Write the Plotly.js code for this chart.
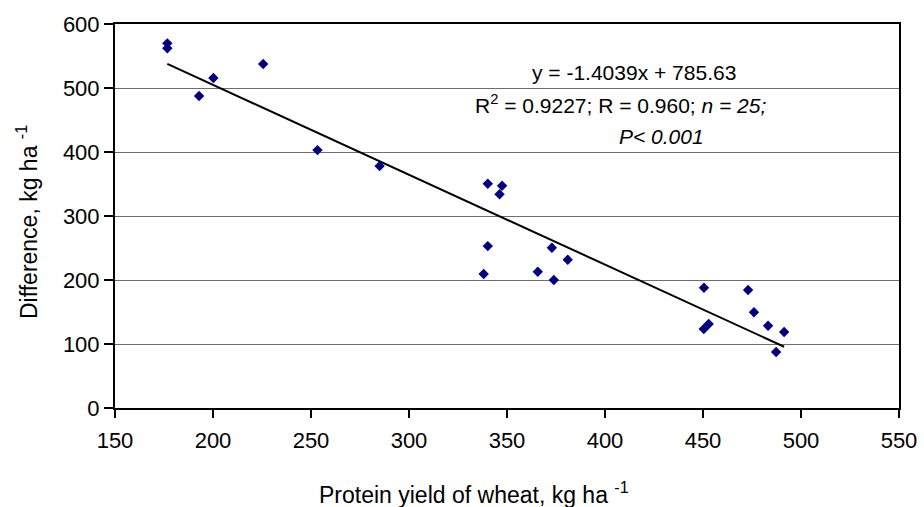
<!DOCTYPE html>
<html>
<head>
<meta charset="utf-8">
<script src="https://cdn.plot.ly/plotly-3.0.1.min.js"></script>
<style>html,body{margin:0;padding:0;background:#fff;}#chart{width:924px;height:507px;}</style>
</head>
<body>
<div id="chart"></div>
<script>
// Protein yield of wheat (kg ha-1)
const proteinYield = [176.7, 176.7, 192.9, 200.2, 225.6, 253.3, 285.0, 340.2, 347.5, 346.2, 340.2, 338.1, 372.9, 381.0, 365.7, 373.9, 450.5, 473.0, 476.0, 483.2, 491.4, 487.3, 450.4, 452.9];
// Difference (kg ha-1)
const difference = [569.8, 562.0, 487.5, 515.6, 537.5, 403.0, 378.0, 350.5, 347.3, 333.9, 253.0, 209.4, 250.5, 231.7, 213.0, 200.0, 188.0, 184.4, 149.5, 128.6, 118.8, 87.5, 123.4, 131.3];
// Linear trend from the chart label
const slope = -1.4039;
const intercept = 785.63;
const xTicks = [150, 200, 250, 300, 350, 400, 450, 500, 550];
const yTicks = [0, 100, 200, 300, 400, 500, 600];
const labelLines = [
  'y = -1.4039x + 785.63',
  'R<sup>2</sup> = 0.9227; R = 0.960; <i>n = 25;</i>',
  '<i>P< 0.001</i>'
];
const xTitle = 'Protein yield of wheat, kg ha <sup>-1</sup>';
const yTitle = 'Difference, kg ha <sup>-1</sup>';

const xMin = Math.min(...proteinYield), xMax = Math.max(...proteinYield);
const trendX = [xMin, xMax];
const trendY = trendX.map(x => slope * x + intercept);

const FONT = 'Liberation Sans, Arial, sans-serif';

const traces = [
  {
    x: trendX, y: trendY, type: 'scatter', mode: 'lines',
    line: {color: '#000000', width: 2}, hoverinfo: 'skip', showlegend: false
  },
  {
    x: proteinYield, y: difference, type: 'scatter', mode: 'markers',
    marker: {symbol: 'diamond', size: 8, color: '#000080', line: {width: 0}},
    showlegend: false
  }
];

const W = 924, H = 507, L = 115, R = 25, T = 24, B = 99;
function px(xp){ return (xp - L) / (W - L - R); }
function py(yp){ return (H - B - yp) / (H - T - B); }

const annPos = [[634, 72], [620, 104], [661, 136]];
const annotations = labelLines.map((t, i) => ({
  text: t, xref: 'paper', yref: 'paper',
  x: px(annPos[i][0]), y: py(annPos[i][1]),
  xanchor: 'center', yanchor: 'middle', showarrow: false,
  font: {family: FONT, size: 21, color: '#000'}
}));
annotations.push({
  text: xTitle, xref: 'paper', yref: 'paper',
  x: px(474), y: py(493), xanchor: 'center', yanchor: 'middle', showarrow: false,
  font: {family: FONT, size: 23, color: '#000'}
});
annotations.push({
  text: yTitle, xref: 'paper', yref: 'paper', textangle: -90,
  x: px(27), y: py(222), xanchor: 'center', yanchor: 'middle', showarrow: false,
  font: {family: FONT, size: 23, color: '#000'}
});

const layout = {
  width: W, height: H,
  margin: {l: L, r: R, t: T, b: B, pad: 0},
  paper_bgcolor: '#ffffff', plot_bgcolor: '#ffffff',
  font: {family: FONT, size: 21, color: '#000'},
  showlegend: false,
  xaxis: {
    range: [150, 550], tickvals: xTicks, ticktext: xTicks.map(String),
    showgrid: false, zeroline: false,
    showline: true, linecolor: '#000', linewidth: 2, mirror: true,
    ticks: 'outside', ticklen: 8, tickwidth: 2, tickcolor: '#000',
    ticklabelstandoff: 4,
    tickfont: {family: FONT, size: 22, color: '#000'}
  },
  yaxis: {
    range: [0, 600], tickvals: yTicks, ticktext: yTicks.map(String),
    showgrid: true, gridcolor: '#6e6e6e', gridwidth: 1, zeroline: false,
    showline: true, linecolor: '#000', linewidth: 2, mirror: true,
    ticks: 'outside', ticklen: 9, tickwidth: 2, tickcolor: '#000',
    tickfont: {family: FONT, size: 22, color: '#000'}
  },
  annotations: annotations
};

Plotly.newPlot('chart', traces, layout, {displayModeBar: false, staticPlot: true});
</script>
</body>
</html>
